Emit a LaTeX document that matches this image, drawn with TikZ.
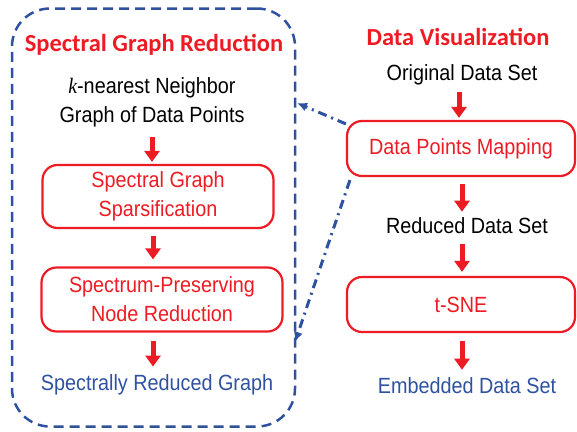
\documentclass[tikz,border=0pt]{standalone}
\usepackage{fontspec}
\setmainfont{Liberation Sans}[FakeStretch=0.9]
\newfontfamily\titlefont{Carlito}
\newfontfamily\kfont{Liberation Serif}[FakeStretch=0.9]
\usetikzlibrary{arrows.meta}
\definecolor{myred}{RGB}{237,28,36}
\definecolor{myblue}{RGB}{47,82,160}
\begin{document}
\begin{tikzpicture}[x=1pt,y=-1pt,
  txt/.style={font=\fontsize{22}{29}\selectfont, align=center, inner sep=0pt},
  ttl/.style={font=\titlefont\bfseries\fontsize{24.5}{28}\selectfont, text=myred, inner sep=0pt},
  rbox/.style={txt, draw=myred, line width=2.2pt, rounded corners=15pt, text=myred},
  redarr/.style={draw=myred, line width=5pt, -{Triangle[width=15pt,length=11pt]}},
  bluedash/.style={draw=myblue, line width=2.5pt, dash pattern=on 10pt off 6pt, rounded corners=38pt},
  dotarr/.style={draw=myblue, line width=3pt, dash pattern=on 9pt off 5pt on 2pt off 5pt, -{Latex[length=10pt,width=9pt]}}
]
\path[use as bounding box, fill=white] (0,0) rectangle (577,431);

% left dashed container
\node[bluedash, minimum width=283pt, minimum height=418pt] (cont) at (153.5,217.5) {};

% titles
\node[ttl] (t1) at (154,45) {Spectral Graph Reduction};
\node[ttl] (t2) at (458,37) {Data Visualization};

% left column
\node[txt] (knn) at (152,102.5) {{\kfont\itshape k}-nearest Neighbor\\Graph of Data Points};
\node[rbox, minimum width=231pt, minimum height=63pt] (sparse) at (158,196.5) {Spectral Graph\\Sparsification};
\node[rbox, minimum width=241pt, minimum height=64pt] (nred) at (162,299.5) {Spectrum-Preserving\\Node Reduction};
\node[txt, text=myblue] (srg) at (157,385) {Spectrally Reduced Graph};

% right column
\node[txt] (orig) at (462,75) {Original Data Set};
\node[rbox, minimum width=228pt, minimum height=55pt] (map) at (461,148.5) {Data Points Mapping};
\node[txt] (red) at (467,226) {Reduced Data Set};
\node[rbox, minimum width=228pt, minimum height=55pt] (tsne) at (461,304.5) {t-SNE};
\node[txt, text=myblue] (emb) at (467,386) {Embedded Data Set};

% red arrows, left
\draw[redarr] ([shift={(0,10)}]knn.south) -- ([shift={(0,-2)}]knn.south |- sparse.north);
\draw[redarr] ([shift={(-5,7)}]sparse.south) -- ([shift={(-5,-7)}]sparse.south |- nred.north);
\draw[redarr] ([shift={(-9,8.5)}]nred.south) -- ([shift={(-9,-8)}]nred.south |- srg.north);

% red arrows, right
\draw[redarr] ([shift={(-3,7)}]orig.south) -- ([shift={(-2,-2)}]map.north);
\draw[redarr] ([shift={(1,7)}]map.south) -- ([shift={(1,-6)}]map.south |- red.north);
\draw[redarr] ([shift={(-5,10)}]red.south) -- ([shift={(-5,-4)}]red.south |- tsne.north);
\draw[redarr] ([shift={(1,8)}]tsne.south) -- ([shift={(1,-8)}]tsne.south |- emb.north);

% dash-dotted feedback arrows
\coordinate (in1) at (297,103);
\coordinate (in2) at (295,342);
\draw[dotarr] ([shift={(0,4)}]map.north west) -- (in1);
\draw[dotarr] ([shift={(4,3)}]map.south west) -- (in2);
\end{tikzpicture}
\end{document}
